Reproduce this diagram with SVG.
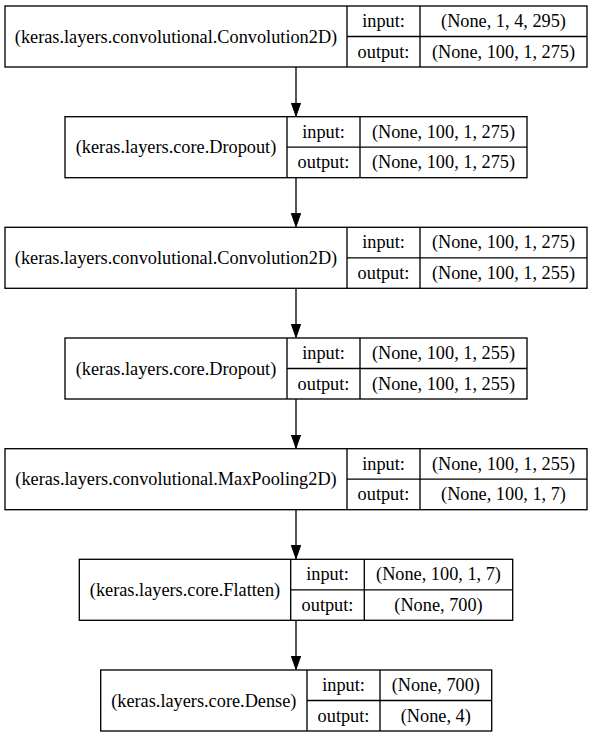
<svg xmlns="http://www.w3.org/2000/svg" width="592" height="737" viewBox="0 0 592 737">
<style>
.box{fill:#fff;stroke:#000;stroke-width:1.33}
.ln{stroke:#000;stroke-width:1.33;fill:none}
text{font-family:"Liberation Serif","Times New Roman",serif;font-size:18.3px;fill:#000;text-anchor:middle}
.edge{stroke:#000;stroke-width:1.33;fill:none;marker-end:url(#ah)}
</style>
<defs>
<marker id="ah" markerUnits="userSpaceOnUse" markerWidth="14" markerHeight="12" refX="13.3" refY="5" orient="auto">
<path d="M0,0.3 L13.3,5 L0,9.7 Z" fill="#000" stroke="#000" stroke-width="1"/>
</marker>
</defs>
<rect width="592" height="737" fill="#fff"/>
<g id="connectors">
<line class="edge" x1="296" y1="67" x2="296" y2="116"/>
<line class="edge" x1="296" y1="177.7" x2="296" y2="226.6"/>
<line class="edge" x1="296" y1="288.3" x2="296" y2="337.3"/>
<line class="edge" x1="296" y1="399" x2="296" y2="448"/>
<line class="edge" x1="296" y1="509.7" x2="296" y2="558.6"/>
<line class="edge" x1="296" y1="620.3" x2="296" y2="669.3"/>
</g>
<g id="node1">
<rect class="box" x="5" y="6" width="582" height="61"/>
<path class="ln" d="M347,6 V67 M420,6 V67 M347,36.5 H587"/>
<text x="176" y="42.5">(keras.layers.convolutional.Convolution2D)</text>
<text x="383.5" y="27">input:</text>
<text x="503.5" y="27">(None, 1, 4, 295)</text>
<text x="383.5" y="57.5">output:</text>
<text x="503.5" y="57.5">(None, 100, 1, 275)</text>
</g>
<g id="node2">
<rect class="box" x="65" y="116.7" width="462" height="61"/>
<path class="ln" d="M287,116.7 V177.7 M360,116.7 V177.7 M287,147.2 H527"/>
<text x="176" y="153.2">(keras.layers.core.Dropout)</text>
<text x="323.5" y="137.7">input:</text>
<text x="443.5" y="137.7">(None, 100, 1, 275)</text>
<text x="323.5" y="168.2">output:</text>
<text x="443.5" y="168.2">(None, 100, 1, 275)</text>
</g>
<g id="node3">
<rect class="box" x="5" y="227.3" width="582" height="61"/>
<path class="ln" d="M347,227.3 V288.3 M420,227.3 V288.3 M347,257.8 H587"/>
<text x="176" y="263.8">(keras.layers.convolutional.Convolution2D)</text>
<text x="383.5" y="248.3">input:</text>
<text x="503.5" y="248.3">(None, 100, 1, 275)</text>
<text x="383.5" y="278.8">output:</text>
<text x="503.5" y="278.8">(None, 100, 1, 255)</text>
</g>
<g id="node4">
<rect class="box" x="65" y="338" width="462" height="61"/>
<path class="ln" d="M287,338 V399 M360,338 V399 M287,368.5 H527"/>
<text x="176" y="374.5">(keras.layers.core.Dropout)</text>
<text x="323.5" y="359">input:</text>
<text x="443.5" y="359">(None, 100, 1, 255)</text>
<text x="323.5" y="389.5">output:</text>
<text x="443.5" y="389.5">(None, 100, 1, 255)</text>
</g>
<g id="node5">
<rect class="box" x="5" y="448.7" width="582" height="61"/>
<path class="ln" d="M347,448.7 V509.7 M420,448.7 V509.7 M347,479.2 H587"/>
<text x="176" y="485.2">(keras.layers.convolutional.MaxPooling2D)</text>
<text x="383.5" y="469.7">input:</text>
<text x="503.5" y="469.7">(None, 100, 1, 255)</text>
<text x="383.5" y="500.2">output:</text>
<text x="503.5" y="500.2">(None, 100, 1, 7)</text>
</g>
<g id="node6">
<rect class="box" x="79.3" y="559.3" width="433.4" height="61"/>
<path class="ln" d="M290.7,559.3 V620.3 M364.3,559.3 V620.3 M290.7,589.8 H512.7"/>
<text x="185" y="595.8">(keras.layers.core.Flatten)</text>
<text x="327.5" y="580.3">input:</text>
<text x="438.5" y="580.3">(None, 100, 1, 7)</text>
<text x="327.5" y="610.8">output:</text>
<text x="438.5" y="610.8">(None, 700)</text>
</g>
<g id="node7">
<rect class="box" x="100.7" y="670" width="391" height="61"/>
<path class="ln" d="M307,670 V731 M380,670 V731 M307,700.5 H491.7"/>
<text x="203.8" y="706.5">(keras.layers.core.Dense)</text>
<text x="343.5" y="691">input:</text>
<text x="435.8" y="691">(None, 700)</text>
<text x="343.5" y="721.5">output:</text>
<text x="435.8" y="721.5">(None, 4)</text>
</g>
</svg>
